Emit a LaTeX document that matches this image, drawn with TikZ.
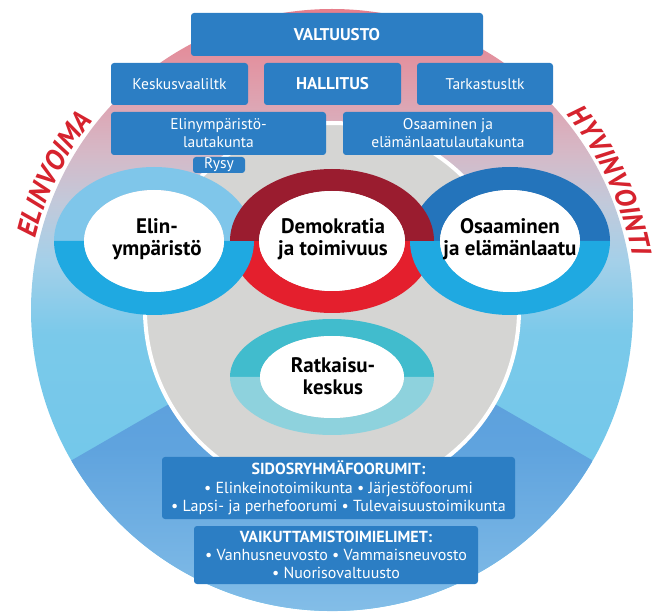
\documentclass[tikz,border=0pt]{standalone}
\usepackage{fontspec}
\setmainfont{PT Sans}
\usetikzlibrary{decorations.text}

% colours
\definecolor{boxblue}{RGB}{44,126,196}
\definecolor{labelred}{RGB}{214,35,46}
\definecolor{coregray}{RGB}{213,213,211}
\definecolor{elintop}{RGB}{127,198,234}
\definecolor{elinbot}{RGB}{31,169,225}
\definecolor{osatop}{RGB}{36,116,187}
\definecolor{osabot}{RGB}{31,169,225}
\definecolor{redtop}{RGB}{154,28,47}
\definecolor{redbot}{RGB}{228,31,45}
\definecolor{tealtop}{RGB}{65,188,205}
\definecolor{tealbot}{RGB}{142,210,221}
\definecolor{fadeA}{RGB}{108,198,234}
\definecolor{fadeB}{RGB}{122,201,234}
\definecolor{fadeC}{RGB}{164,208,233}
\definecolor{fadeD}{RGB}{194,201,218}
\definecolor{fadeE}{RGB}{213,185,199}
\definecolor{fadeF}{RGB}{222,163,177}
\definecolor{fadeG}{RGB}{231,126,139}
\definecolor{bandA}{RGB}{140,196,234}
\definecolor{bandB}{RGB}{95,163,222}
\definecolor{bandC}{RGB}{90,157,219}

\pgfdeclareverticalshading{outerfade}{100bp}{color(0bp)=(fadeA); color(25bp)=(fadeA);
  color(48bp)=(fadeB); color(54bp)=(fadeC); color(59bp)=(fadeD); color(63bp)=(fadeE);
  color(67.5bp)=(fadeF); color(75bp)=(fadeG); color(100bp)=(fadeG)}
\pgfdeclareverticalshading{bandfade}{100bp}{color(0bp)=(bandA); color(25bp)=(bandA);
  color(55bp)=(bandB); color(75bp)=(bandC); color(100bp)=(bandC)}

\newcommand{\labelfont}{\fontsize{28}{28}\selectfont\bfseries\itshape}
\newcommand{\boldhead}[1]{{\fontsize{17}{18}\selectfont\bfseries #1}}

\begin{document}
\begin{tikzpicture}[x=1pt, y=1pt,
  box/.style={fill=boxblue, rounded corners=3pt, text=white, align=center,
    inner sep=0pt, font=\fontsize{15.5}{18}\selectfont},
  ringtext/.style={align=center, font=\fontsize{21}{22.5}\selectfont\bfseries},
  sidetext/.style={decorate, decoration={text along path, text align=center,
    text color=labelred}}]

% --- canvas ---
\useasboundingbox (0,0) rectangle (654,614);

% --- disc settings ---
\def\cx{332}  % centre x
\def\cy{304}  % centre y
\coordinate (c) at (\cx,\cy);

% Helper: half of a ring: centre x, centre y, outer a, outer b, inner a, inner b, colour
\newcommand{\ringtop}[7]{%
  \fill[#7] (#1+#3,#2) arc[start angle=0, end angle=180, x radius=#3, y radius=#4]
    -- (#1-#5,#2) arc[start angle=180, end angle=0, x radius=#5, y radius=#6] -- cycle;
}
\newcommand{\ringbot}[7]{%
  \fill[#7] (#1+#3,#2) arc[start angle=0, end angle=-180, x radius=#3, y radius=#4]
    -- (#1-#5,#2) arc[start angle=-180, end angle=0, x radius=#5, y radius=#6] -- cycle;
}

% Big disc, lower band and grey core
\shade[shading=outerfade] (c) circle [radius=301];
\shade[shading=bandfade] (c) -- ++(210:301) arc [start angle=210, end angle=330, radius=301] -- cycle;
\draw[fill=coregray, draw=white, line width=4pt] (c) circle [radius=187];

% Red words round the rim
\path[sidetext, decoration={text={|\labelfont|ELINVOIMA}}]
  (c) ++(180:305) arc [start angle=180, end angle=128, radius=305];
\path[sidetext, decoration={text={|\labelfont|HYVINVOINTI}}]
  (c) ++(52:305) arc [start angle=52, end angle=-2, radius=305];

% Row 1 (top)
\node[box, minimum width=292pt, minimum height=43pt] (valtuusto) at (337,579.5) {\boldhead{VALTUUSTO}};

% Row 2
\node[box, minimum width=137pt, minimum height=42pt] (keskus) at (179.5,530) {Keskusvaaliltk};
\node[box, minimum width=137pt, minimum height=42pt] (hallitus) at (332.5,530) {\boldhead{HALLITUS}};
\node[box, minimum width=136pt, minimum height=42pt] (tarkastus) at (485,530) {Tarkastusltk};

% Row 3
\node[box, minimum width=215pt, minimum height=43pt] (elinltk) at (218.5,480.5) {Elinympäristö-\\lautakunta};
\node[box, minimum width=210pt, minimum height=43pt] (osaltk) at (448,480.5) {Osaaminen ja\\elämänlaatulautakunta};
\node[box, minimum width=52pt, minimum height=16pt] (rysy) at (219,449) {Rysy};

% Rings: teal one first, then the red and blue ones linked
\ringtop{332}{237}{102}{58}{72}{41}{tealtop}
\ringbot{332}{237}{102}{58}{72}{41}{tealbot}
\ringbot{332}{373}{102}{72}{73}{50}{redbot}
\ringtop{154}{373}{100}{74}{70}{51}{elintop}
\ringbot{154}{373}{100}{74}{70}{51}{elinbot}
\ringtop{510}{373}{100}{74}{70}{51}{osatop}
\ringbot{510}{373}{100}{74}{70}{51}{osabot}
\ringtop{332}{373}{102}{72}{73}{50}{redtop}

% white middles
\fill[white] (154,373) ellipse [x radius=70, y radius=51];
\fill[white] (332,373) ellipse [x radius=73, y radius=50];
\fill[white] (510,373) ellipse [x radius=70, y radius=51];
\fill[white] (332,237) ellipse [x radius=72, y radius=41];

\node[ringtext] (elin) at (157,375) {Elin-\\ympäristö};
\node[ringtext] (demo) at (333,375) {Demokratia\\ja toimivuus};
\node[ringtext] (osaa) at (510,375) {Osaaminen\\ja elämänlaatu};
\node[ringtext] (ratk) at (333,238) {Ratkaisu-\\keskus};

% Bottom boxes
\node[box, minimum width=353pt, minimum height=62pt, font=\fontsize{16}{18.5}\selectfont] (sidos) at (338.5,126)
  {\textbf{SIDOSRYHMÄFOORUMIT:}\\• Elinkeinotoimikunta • Järjestöfoorumi\\• Lapsi- ja perhefoorumi • Tulevaisuustoimikunta};
\node[box, minimum width=284pt, minimum height=58pt, font=\fontsize{16}{18}\selectfont] (vaikutus) at (336,59)
  {\textbf{VAIKUTTAMISTOIMIELIMET:}\\• Vanhusneuvosto • Vammaisneuvosto\\• Nuorisovaltuusto};

\end{tikzpicture}
\end{document}
